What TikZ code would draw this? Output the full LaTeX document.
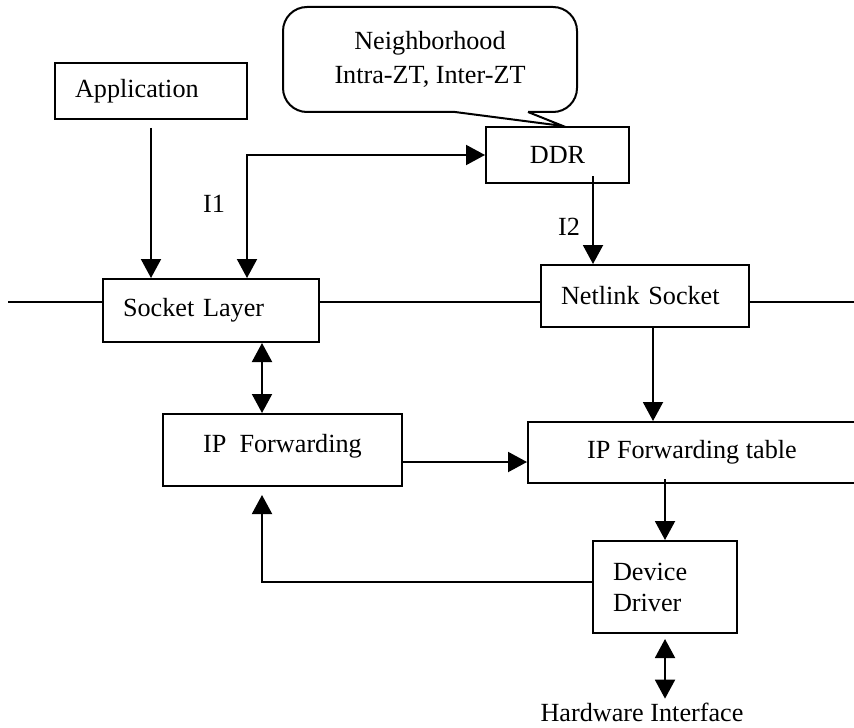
\documentclass[tikz,border=0pt]{standalone}
\usepackage{fontspec}
\setmainfont{Liberation Serif}
\usepackage{tikz}
\usetikzlibrary{arrows.meta,calc}
\tikzstyle{block} = [rectangle, draw, inner xsep=10pt, align=left]
\tikzstyle{cblock} = [rectangle, draw, align=center]
\tikzstyle{arrow} = [-{Triangle[length=9.5pt, width=10pt]}]
\tikzstyle{twoway} = [{Triangle[length=9.5pt, width=10pt]}-{Triangle[length=9.5pt, width=10pt]}]
\tikzstyle{tag} = [inner sep=0pt]

\begin{document}
\begin{tikzpicture}[x=0.5pt, y=-0.5pt, line width=1pt, font=\fontsize{13.1pt}{15.5pt}\selectfont]
\useasboundingbox (0,0) rectangle (854,727);

\node[block, text width=76pt, minimum height=28pt] (app) at (151,91) {Application};
\node[minimum width=147pt, minimum height=52.5pt, outer sep=0pt, align=center] (nbr) at (430,59.5) {Neighborhood\\[1.5pt]Intra-ZT, Inter-ZT};
\node[cblock, minimum width=71.5pt, minimum height=28pt] (ddr) at (557.5,155) {DDR};
\node[block, text width=88pt, minimum height=31.5pt] (sock) at (211,310.5) {Socket Layer};
\node[block, text width=84pt, minimum height=31pt] (netl) at (645,296) {Netlink Socket};
\node[cblock, minimum width=119.5pt, minimum height=36pt, text depth=7pt] (ipf) at (282.5,450) {IP\ \ Forwarding};
\node[cblock, minimum width=164pt, minimum height=30.5pt] (tbl) at (692,452.5) {IP Forwarding table};
\node[block, text width=52pt, minimum height=46pt] (dd) at (665,587) {Device\\Driver};
\node[tag] (hw) at (642,712) {Hardware Interface};

\draw[rounded corners=12pt] ($(nbr.south)+(98,0)$) -- (nbr.south east) -- (nbr.north east) -- (nbr.north west) -- (nbr.south west) -- ($(nbr.south)+(25,0)$);
\draw ($(nbr.south)+(25,0)$) -- ($(ddr.north)+(5.5,0)$) -- ($(nbr.south)+(98,0)$);

\coordinate (lend) at (8,302);
\coordinate (rend) at (854,302);
\draw (lend) -- (lend -| sock.west) (lend -| sock.east) -- (lend -| netl.west) (lend -| netl.east) -- (rend);

\draw[arrow] ($(app.south)+(0,8)$) -- (app.south |- sock.north);
\draw[twoway] (ddr.west) -| ($(sock.north)+(36,0)$) node[tag, pos=0.7, left=10.5pt] {I1};
\draw[arrow] ($(ddr.south)+(35.5,-8)$) -- ($(netl.north)+(-52,0)$) node[tag, pos=0.58, left=6pt] {I2};
\draw[twoway] ($(sock.south)+(51,0)$) -- ($(ipf.north)+(-20.5,0)$);
\draw[arrow] ($(netl.south)+(8,0)$) -- ($(tbl.north)+(-39,0)$);
\draw[arrow] ($(ipf.east)+(0,12)$) -- ($(tbl.west)+(0,9.5)$);
\draw[arrow] ($(tbl.south)+(-27,-5)$) -- (dd.north);
\draw[arrow] ($(dd.west)+(0,-5)$) -| ($(ipf.south)+(-20.5,8)$);
\draw[twoway] ($(dd.south)+(0,5)$) -- ($(hw.north)+(23,-3)$);
\end{tikzpicture}
\end{document}
